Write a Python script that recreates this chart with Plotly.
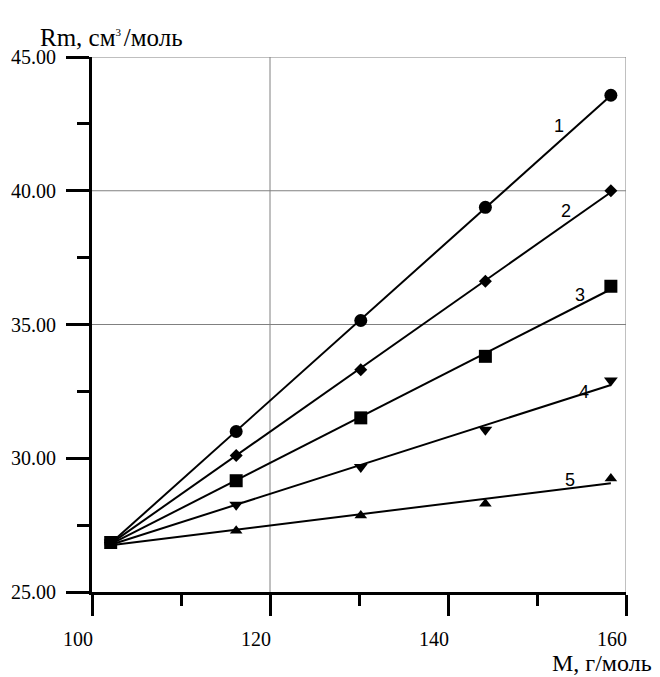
import numpy as np
import plotly.graph_objects as go

# Data
M = [102.1, 116.2, 130.2, 144.2, 158.3]
series_names = ["1", "2", "3", "4", "5"]
rm1 = [26.85, 31.00, 35.15, 39.38, 43.57]
rm2 = [26.85, 30.10, 33.31, 36.62, 40.00]
rm3 = [26.85, 29.16, 31.51, 33.81, 36.43]
rm4 = [26.85, 28.26, 29.67, 31.07, 32.91]
rm5 = [26.85, 27.29, 27.86, 28.30, 29.24]
series_values = [rm1, rm2, rm3, rm4, rm5]
symbols = ["circle", "diamond", "square", "triangle-down", "triangle-up"]
marker_sizes = [13, 10, 13, 12, 11]
label_x = [152.5, 153.3, 154.8, 155.3, 153.7]
label_y = [42.41, 39.23, 36.12, 32.49, 29.20]

grid_x = [120, 160]
grid_y = [35, 40, 45]

SERIF = "Liberation Serif, Times New Roman, serif"

fig = go.Figure()

# regression lines
for vals in series_values:
    k, b = np.polyfit(M, vals, 1)
    xs = [M[0], M[-1]]
    ys = [k * x + b for x in xs]
    fig.add_trace(go.Scatter(x=xs, y=ys, mode="lines",
                             line=dict(color="black", width=2),
                             showlegend=False, hoverinfo="skip"))

order = [0, 1, 3, 4, 2]
for i in order:
    fig.add_trace(go.Scatter(x=M, y=series_values[i], mode="markers",
                             marker=dict(symbol=symbols[i], size=marker_sizes[i],
                                         color="black", line=dict(width=0)),
                             name=series_names[i], showlegend=False))

shapes = []
for gx in grid_x:
    shapes.append(dict(type="line", xref="x", yref="y", x0=gx, x1=gx, y0=25, y1=45,
                       line=dict(color="#808080", width=1), layer="below"))
for gy in grid_y:
    shapes.append(dict(type="line", xref="x", yref="y", x0=100, x1=160, y0=gy, y1=gy,
                       line=dict(color="#808080", width=1), layer="below"))

annotations = []
for name, lx, ly in zip(series_names, label_x, label_y):
    annotations.append(dict(x=lx, y=ly, xref="x", yref="y", text=name, showarrow=False,
                            font=dict(family="Liberation Sans, Arial, sans-serif",
                                      size=18, color="black")))

annotations.append(dict(x=-0.101, y=1.0, xref="paper", yref="paper", xanchor="left",
                        yanchor="bottom", yshift=4,
                        text="Rm, см<sup><span style='font-size:11px'>3 </span></sup>/моль",
                        showarrow=False,
                        font=dict(family=SERIF, size=25, color="black")))
annotations.append(dict(x=1.052, y=-0.131, xref="paper", yref="paper", xanchor="right",
                        yanchor="middle", yshift=-1, text="M, г/моль", showarrow=False,
                        font=dict(family=SERIF, size=24, color="black")))

fig.update_layout(
    width=660, height=677,
    margin=dict(l=92, r=34, t=57, b=85),
    paper_bgcolor="white", plot_bgcolor="white",
    shapes=shapes, annotations=annotations,
    showlegend=False,
    font=dict(family=SERIF, color="black"),
)

fig.update_xaxes(range=[100, 160], dtick=20, tick0=100, showgrid=False, zeroline=False,
                 showline=True, linecolor="black", linewidth=3,
                 ticks="outside", ticklen=21, tickwidth=2.5, tickcolor="black",
                 minor=dict(dtick=10, tick0=100, ticks="outside", ticklen=11,
                            tickwidth=2.5, tickcolor="black", showgrid=False),
                 tickfont=dict(family=SERIF, size=20, color="black"),
                 ticklabelshift=-14, ticklabelstandoff=6)
fig.update_yaxes(range=[25, 45], dtick=5, tick0=25, showgrid=False, zeroline=False,
                 showline=True, linecolor="black", linewidth=3,
                 ticks="outside", ticklen=23, tickwidth=2.5, tickcolor="black",
                 tickformat=".2f",
                 minor=dict(dtick=2.5, tick0=25, ticks="outside", ticklen=12,
                            tickwidth=2.5, tickcolor="black", showgrid=False),
                 tickfont=dict(family=SERIF, size=20, color="black"),
                 ticklabelstandoff=6)

fig.write_html("out.html")
